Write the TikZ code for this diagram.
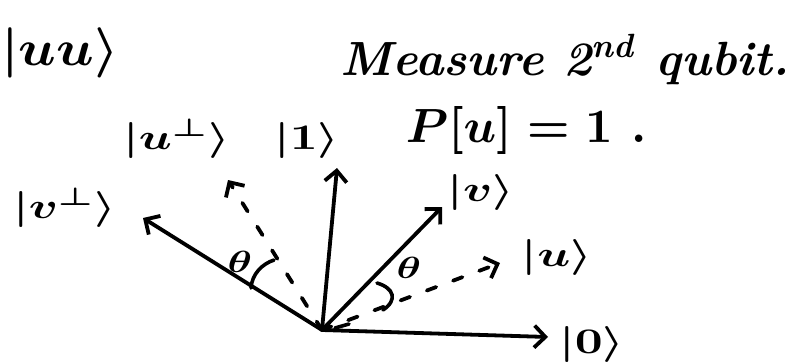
\documentclass[tikz,border=0pt]{standalone}
\usetikzlibrary{arrows.meta}
\begin{document}
\begin{tikzpicture}[x=1pt,y=-1pt,
  vec/.style={line width=3.8pt,line cap=round,-{Straight Barb[length=11pt,width=22pt,line width=3.8pt]}},
  dvec/.style={vec,dash pattern=on 10pt off 18pt},
  ket/.style={inner sep=0pt,font=\boldmath,scale=3.6,xscale=1.35},
  big/.style={inner sep=0pt,font=\boldmath\bfseries,scale=4.8},
  thin/.style={line width=3.6pt,line cap=round}]
\useasboundingbox (0,0) rectangle (798,362);
\coordinate (O) at (322,330);
\coordinate (t0) at (548,337);
\coordinate (t1) at (337,168);
\coordinate (tvp) at (143,218);
\coordinate (tup) at (228,180);
\coordinate (tv) at (442,207);
\coordinate (tu) at (500,263);
% labels
\node[big,anchor=west,scale=1.05,xscale=1.1] (uu) at (0,53) {$|uu\rangle$};
\node[big,anchor=base west,xscale=1.0] (meas) at (340,75) {\textit{Measure 2\textsuperscript{nd} qubit.}};
\node[big,anchor=base west] (pu) at (405,142) {$P[u] = 1$ .};
\node[ket] (lup) at (177,139) {$|u^{\perp}\rangle$};
\node[ket] (l1) at (307,140) {$|1\rangle$};
\node[ket] (lvp) at (65,208) {$|v^{\perp}\rangle$};
\node[ket] (lv) at (481,192) {$|v\rangle$};
\node[ket] (lu) at (557,257) {$|u\rangle$};
\node[ket] (l0) at (592,344) {$|0\rangle$};
% vectors
\draw[vec] (O) -- (t0);
\draw[vec] (O) -- (t1);
\draw[vec] (O) -- (tvp);
\draw[vec] (O) -- (tv);
\draw[dvec] (O) -- (tup);
\draw[dvec] (O) -- (tu);
% angles
\coordinate (a1) at (251,288);
\coordinate (a2) at (274,260);
\draw[thin] (a1) .. controls (252,274) and (262,264) .. (a2);
\node[ket,scale=0.85] (th1) at (240,262) {$\theta$};
\coordinate (b1) at (377,283);
\coordinate (b2) at (383,310);
\draw[thin] (b1) .. controls (394,288) and (398,300) .. (b2);
\node[ket,scale=0.85] (th2) at (409,268) {$\theta$};
\coordinate (s1) at (335,328);
\coordinate (s2) at (349,324);
\draw[thin] (s1) -- (s2);
\end{tikzpicture}
\end{document}
